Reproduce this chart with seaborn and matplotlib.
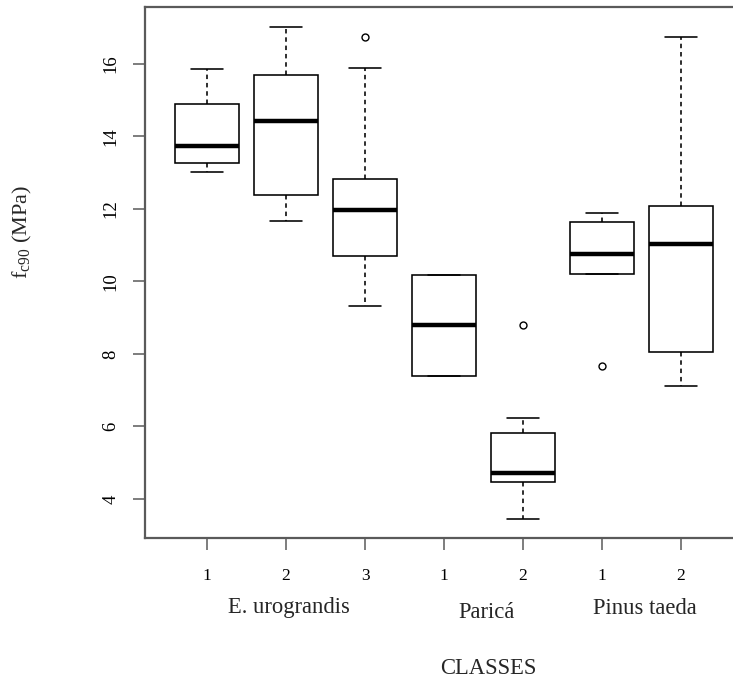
import numpy as np
import pandas as pd
import matplotlib
matplotlib.use("Agg")
import matplotlib.pyplot as plt
import matplotlib.transforms as mtransforms
import seaborn as sns

# ---- data ----
species = ["E. urograndis", "E. urograndis", "E. urograndis",
           "Paricá", "Paricá", "Pinus taeda", "Pinus taeda"]
classes = ["1", "2", "3", "1", "2", "1", "2"]
whisker_low = [13.02, 11.67, 9.32, 7.39, 3.45, 10.21, 7.12]
q1 = [13.27, 12.39, 10.71, 7.39, 4.47, 10.21, 8.06]
median = [13.74, 14.43, 11.97, 8.80, 4.72, 10.75, 11.04]
q3 = [14.90, 15.70, 12.83, 10.18, 5.82, 11.65, 12.09]
whisker_high = [15.86, 17.02, 15.89, 10.18, 6.23, 11.90, 16.74]
outliers = [[], [], [16.74], [], [8.80], [7.67], []]
group_names = ["E. urograndis", "Paricá", "Pinus taeda"]
y_ticks = [4, 6, 8, 10, 12, 14, 16]

# ---- build a table whose box statistics equal the values above ----
keys = [f"{s} {c}" for s, c in zip(species, classes)]
rows = []
for k, lo, a, m, b, hi, outs in zip(keys, whisker_low, q1, median, q3,
                                     whisker_high, outliers):
    vals = [lo] + [a] * 3 + [m] * 3 + [b] * 3 + [hi] + list(outs)
    rows += [(k, v) for v in vals]
df = pd.DataFrame(rows, columns=["classe", "f_c90"])

# ---- style ----
sns.set_style("white")
plt.rcParams["font.family"] = ["Liberation Serif", "DejaVu Serif"]
plt.rcParams["mathtext.fontset"] = "custom"
plt.rcParams["mathtext.rm"] = "Liberation Serif"
plt.rcParams["mathtext.it"] = "Liberation Serif:italic"

W, H = 733, 684
fig = plt.figure(figsize=(W / 100, H / 100), dpi=100)
ax = fig.add_axes([145 / W, 1 - 538 / H, 598 / W, (538 - 7) / H])

sns.boxplot(data=df, x="classe", y="f_c90", order=keys, ax=ax,
            width=0.8, color="white", saturation=1, linecolor="black",
            linewidth=1.15,
            whiskerprops=dict(linestyle=(0, (2.8, 2.4))),
            capprops=dict(linestyle="-"),
            medianprops=dict(linewidth=3.2),
            flierprops=dict(marker="o", markersize=5,
                            markerfacecolor="none",
                            markeredgecolor="black",
                            markeredgewidth=1.0))

ax.set_xlim(-0.785, 6.785)
ax.set_ylim(2.924, 17.57)
ax.set_yticks(y_ticks)
ax.set_yticklabels([str(t) for t in y_ticks], rotation=90, va="center")
ax.set_xticks(range(len(keys)))
ax.set_xticklabels(classes)
ax.set_xlabel("")
ax.set_ylabel("")

spine_col = "#5a5a5a"
for sp in ax.spines.values():
    sp.set_visible(True)
    sp.set_color(spine_col)
    sp.set_linewidth(1.6)

ax.tick_params(axis="both", which="major", direction="out", length=8.6,
               width=1.1, color=spine_col, labelcolor="black",
               bottom=True, left=True, top=False, right=False)
ax.tick_params(axis="y", labelsize=13.5, pad=10)
ax.tick_params(axis="x", labelsize=12.5, pad=13)

# group labels under the class numbers
trans = mtransforms.blended_transform_factory(ax.transData, fig.transFigure)
idx = np.arange(len(keys))
for g in group_names:
    pos = idx[[s == g for s in species]].mean()
    ypix = 612 if g == "Paricá" else 608
    ax.text(pos + 0.04, 1 - ypix / H, g, transform=trans, ha="center",
            va="center", fontsize=16.3)

fig.text(488 / W, 1 - 669 / H, "CLASSES", ha="center", va="center",
         fontsize=16.3)
fig.text(22 / W, 1 - 232 / H, r"f$_{\mathregular{c90}}$ (MPa)", rotation=90,
         ha="center", va="center", fontsize=16)

fig.savefig("out.png", dpi=100)
